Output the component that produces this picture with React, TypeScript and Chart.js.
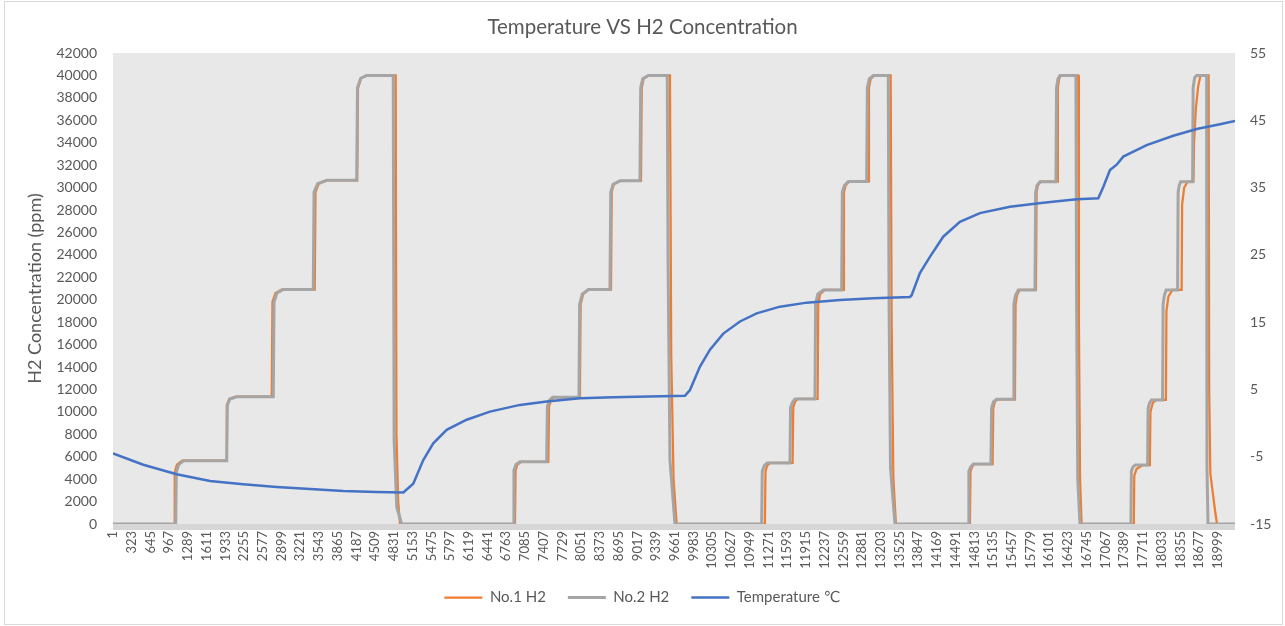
import { useEffect, useRef } from 'react';
import { Chart, registerables } from 'chart.js';

Chart.register(...registerables);

// ---- Data ----
const xTickLabels: number[] = [
  1, 323, 645, 967, 1289, 1611, 1933, 2255, 2577, 2899, 3221, 3543, 3865, 4187, 4509,
  4831, 5153, 5475, 5797, 6119, 6441, 6763, 7085, 7407, 7729, 8051, 8373, 8695, 9017,
  9339, 9661, 9983, 10305, 10627, 10949, 11271, 11593, 11915, 12237, 12559, 12881,
  13203, 13525, 13847, 14169, 14491, 14813, 15135, 15457, 15779, 16101, 16423, 16745,
  17067, 17389, 17711, 18033, 18355, 18677, 18999,
];

const xRange: number[] = [1, 19294];
const h2AxisRange: number[] = [0, 42000, 2000];
const tempAxisRange: number[] = [-15, 55, 10];

const seriesNames: string[] = ['No.1 H2', 'No.2 H2', 'Temperature ℃'];

// [sample index, ppm]
const no1H2: [number, number][] = [
  [1, 0], [1050, 0], [1062, 4600], [1100, 5300], [1190, 5650], [1946, 5650],
  [1958, 10600], [2000, 11150], [2110, 11350], [2730, 11350],
  [2743, 19800], [2795, 20600], [2900, 20900], [3470, 20900],
  [3483, 29600], [3540, 30350], [3690, 30650], [4200, 30650],
  [4214, 38900], [4270, 39750], [4370, 40000], [4862, 40000],
  [4875, 8000], [4905, 2000], [4936, 0],
  [6913, 0], [6924, 4800], [6955, 5300], [7020, 5550], [7487, 5550],
  [7499, 10500], [7530, 11000], [7585, 11300], [8030, 11300],
  [8042, 19600], [8085, 20500], [8185, 20900], [8564, 20900],
  [8577, 29600], [8615, 30300], [8730, 30600], [9080, 30600],
  [9093, 38900], [9125, 39700], [9215, 40000], [9578, 40000],
  [9600, 15000], [9640, 4000], [9693, 0],
  [11211, 0], [11221, 4700], [11250, 5200], [11300, 5450], [11687, 5450],
  [11698, 10400], [11730, 10900], [11770, 11150], [12117, 11150],
  [12128, 19600], [12160, 20500], [12240, 20870], [12558, 20870],
  [12570, 29600], [12600, 30200], [12665, 30550], [12988, 30550],
  [13000, 38900], [13030, 39700], [13095, 40000], [13373, 40000],
  [13390, 18000], [13420, 4000], [13464, 0],
  [14736, 0], [14746, 4700], [14775, 5100], [14815, 5350], [15126, 5350],
  [15137, 10300], [15165, 10900], [15215, 11120], [15510, 11120],
  [15521, 19600], [15545, 20400], [15590, 20870], [15871, 20870],
  [15883, 29600], [15905, 30200], [15955, 30530], [16238, 30530],
  [16248, 38900], [16270, 39700], [16300, 40000], [16598, 40000],
  [16610, 18000], [16630, 4000], [16656, 0],
  [17554, 0], [17562, 4300], [17600, 4900], [17710, 5260], [17830, 5260],
  [17840, 10000], [17880, 10800], [17940, 11060], [18106, 11060],
  [18115, 19000], [18150, 20300], [18220, 20870], [18376, 20870],
  [18385, 28500], [18420, 30000], [18480, 30530], [18580, 30530],
  [18590, 34000], [18620, 37000], [18660, 39000], [18700, 40000], [18841, 40000],
  [18850, 12000], [18870, 4500], [18956, 1000], [18985, 0], [19294, 0],
];

const no2H2: [number, number][] = [
  [1, 0], [1079, 0], [1090, 4600], [1130, 5300], [1220, 5650], [1956, 5650],
  [1968, 10600], [2010, 11150], [2128, 11350], [2757, 11350],
  [2770, 19800], [2820, 20600], [2924, 20900], [3445, 20900],
  [3458, 29600], [3520, 30350], [3675, 30650], [4191, 30650],
  [4205, 38900], [4260, 39750], [4363, 40000], [4820, 40000],
  [4835, 7500], [4880, 1500], [4965, 0],
  [6884, 0], [6895, 4800], [6930, 5300], [6999, 5550], [7458, 5550],
  [7470, 10500], [7500, 11000], [7560, 11300], [8013, 11300],
  [8025, 19600], [8070, 20500], [8173, 20900], [8546, 20900],
  [8560, 29600], [8600, 30300], [8718, 30600], [9062, 30600],
  [9075, 38900], [9110, 39700], [9205, 40000], [9532, 40000],
  [9545, 23500], [9578, 5700], [9664, 0],
  [11155, 0], [11165, 4700], [11200, 5200], [11250, 5450], [11641, 5450],
  [11652, 10400], [11690, 10900], [11730, 11150], [12071, 11150],
  [12082, 19600], [12120, 20500], [12215, 20870], [12530, 20870],
  [12542, 29600], [12580, 30200], [12645, 30550], [12960, 30550],
  [12972, 38900], [13005, 39700], [13075, 40000], [13332, 40000],
  [13345, 20000], [13370, 5000], [13447, 0],
  [14708, 0], [14718, 4700], [14750, 5100], [14794, 5350], [15097, 5350],
  [15108, 10300], [15140, 10900], [15195, 11120], [15481, 11120],
  [15492, 19600], [15520, 20400], [15567, 20870], [15854, 20870],
  [15866, 29600], [15890, 30200], [15940, 30530], [16215, 30530],
  [16225, 38900], [16250, 39700], [16284, 40000], [16559, 40000],
  [16570, 20000], [16590, 4000], [16628, 0],
  [17504, 0], [17512, 4700], [17540, 5100], [17580, 5260], [17791, 5260],
  [17800, 10300], [17825, 10800], [17860, 11060], [18049, 11060],
  [18058, 19600], [18080, 20400], [18110, 20870], [18307, 20870],
  [18316, 29600], [18335, 30200], [18360, 30530], [18565, 30530],
  [18574, 38900], [18600, 39800], [18633, 40000], [18806, 40000],
  [18812, 5000], [18830, 0], [19294, 0],
];

// [sample index, °C]
const temperature: [number, number][] = [
  [1, -4.5], [522, -6.2], [1096, -7.6], [1669, -8.6], [2241, -9.1], [2816, -9.5],
  [3388, -9.8], [3961, -10.1], [4535, -10.25], [4993, -10.3],
  [5164, -9.0], [5336, -5.5], [5508, -3.0], [5739, -1.0], [6083, 0.5], [6483, 1.7],
  [6999, 2.7], [7458, 3.2], [8031, 3.7], [8604, 3.85], [9836, 4.05],
  [9922, 4.9], [10094, 8.4], [10266, 10.9], [10495, 13.3], [10782, 15.1], [11069, 16.3],
  [11470, 17.3], [11929, 17.9], [12502, 18.3], [13074, 18.55], [13705, 18.75],
  [13734, 19.0], [13876, 22.3], [14048, 24.7], [14277, 27.7], [14564, 29.9], [14908, 31.2],
  [15424, 32.15], [15997, 32.75], [16571, 33.25], [16943, 33.4],
  [17029, 35.1], [17144, 37.6], [17259, 38.4], [17373, 39.6], [17775, 41.3],
  [18233, 42.7], [18635, 43.7], [19036, 44.4], [19294, 44.9],
];

const FONT = 'Lato, "Open Sans", "DejaVu Sans", sans-serif';
const TEXT = '#595959';

const toXY = (arr: [number, number][]) => arr.map(([x, y]) => ({ x, y }));

const framePlugin = {
  id: 'frame',
  beforeDraw(chart: any) {
    const { ctx, chartArea: a, width, height } = chart;
    ctx.save();
    ctx.fillStyle = '#ffffff';
    ctx.fillRect(0, 0, width, height);
    ctx.fillStyle = '#e8e8e8';
    ctx.fillRect(a.left, a.top, a.right - a.left, a.bottom - a.top);
    ctx.fillStyle = '#d6d6d6';
    ctx.fillRect(a.left, a.bottom, a.right - a.left, 6);
    ctx.strokeStyle = '#d9d9d9';
    ctx.lineWidth = 1;
    ctx.strokeRect(4.5, 1.5, width - 7, height - 3);
    ctx.restore();
  },
};

export default function App() {
  const ref = useRef<HTMLCanvasElement | null>(null);

  useEffect(() => {
    if (!ref.current) return;
    const chart = new Chart(ref.current, {
      type: 'line',
      data: {
        datasets: [
          {
            label: seriesNames[0],
            data: toXY(no1H2),
            borderColor: '#ED7D31',
            backgroundColor: '#ED7D31',
            borderWidth: 2.25,
            yAxisID: 'y',
            order: 3,
          },
          {
            label: seriesNames[1],
            data: toXY(no2H2),
            borderColor: '#A5A5A5',
            backgroundColor: '#A5A5A5',
            borderWidth: 3,
            yAxisID: 'y',
            order: 2,
          },
          {
            label: seriesNames[2],
            data: toXY(temperature),
            borderColor: '#4472C4',
            backgroundColor: '#4472C4',
            borderWidth: 2.5,
            yAxisID: 'y1',
            order: 1,
          },
        ],
      },
      options: {
        animation: false,
        responsive: false,
        layout: { padding: { left: 0, right: 0, top: 0, bottom: 11 } },
        elements: { line: { tension: 0 }, point: { radius: 0, hoverRadius: 0 } },
        plugins: {
          title: {
            display: true,
            text: 'Temperature VS H2 Concentration',
            color: TEXT,
            font: { family: FONT, size: 20.5, weight: 'normal' },
            padding: { top: 14.7, bottom: 13.7 },
          },
          legend: {
            position: 'bottom',
            labels: {
              usePointStyle: true,
              pointStyle: 'line',
              pointStyleWidth: 38,
              color: TEXT,
              font: { family: FONT, size: 15 },
              padding: 22,
              sort: (a: any, b: any) => a.datasetIndex - b.datasetIndex,
            },
          },
          tooltip: { enabled: false },
        },
        scales: {
          x: {
            type: 'linear',
            min: xRange[0],
            max: xRange[1],
            grid: { display: false, drawTicks: false },
            border: { display: false },
            afterBuildTicks: (axis: any) => {
              axis.ticks = xTickLabels.map((v) => ({ value: v }));
            },
            afterFit: (s: any) => {
              s.height = 44;
            },
            ticks: {
              autoSkip: false,
              minRotation: 90,
              maxRotation: 90,
              padding: 7,
              color: TEXT,
              font: { family: FONT, size: 13 },
              callback: (v: any) => String(v),
            },
          },
          y: {
            position: 'left',
            min: h2AxisRange[0],
            max: h2AxisRange[1],
            grid: { display: false, drawTicks: false },
            border: { display: false },
            ticks: {
              stepSize: h2AxisRange[2],
              autoSkip: false,
              padding: 16,
              color: TEXT,
              font: { family: FONT, size: 14 },
              callback: (v: any) => String(v),
            },
            title: {
              display: true,
              text: 'H2 Concentration (ppm)',
              color: TEXT,
              font: { family: FONT, size: 18 },
              padding: { top: 24.2, bottom: 0 },
            },
            afterFit: (s: any) => {
              s.width = 113;
            },
          },
          y1: {
            position: 'right',
            min: tempAxisRange[0],
            max: tempAxisRange[1],
            grid: { display: false, drawTicks: false },
            border: { display: false },
            ticks: {
              stepSize: tempAxisRange[2],
              autoSkip: false,
              padding: 15,
              color: TEXT,
              font: { family: FONT, size: 14 },
              callback: (v: any) => String(v),
            },
            afterFit: (s: any) => {
              s.width = 50;
            },
          },
        },
      } as any,
      plugins: [framePlugin],
    });
    return () => chart.destroy();
  }, []);

  return (
    <div style={{ position: 'fixed', left: 0, top: 0, width: 1285, height: 626 }}>
      <canvas ref={ref} width={1285} height={626} style={{ display: 'block' }} />
    </div>
  );
}
